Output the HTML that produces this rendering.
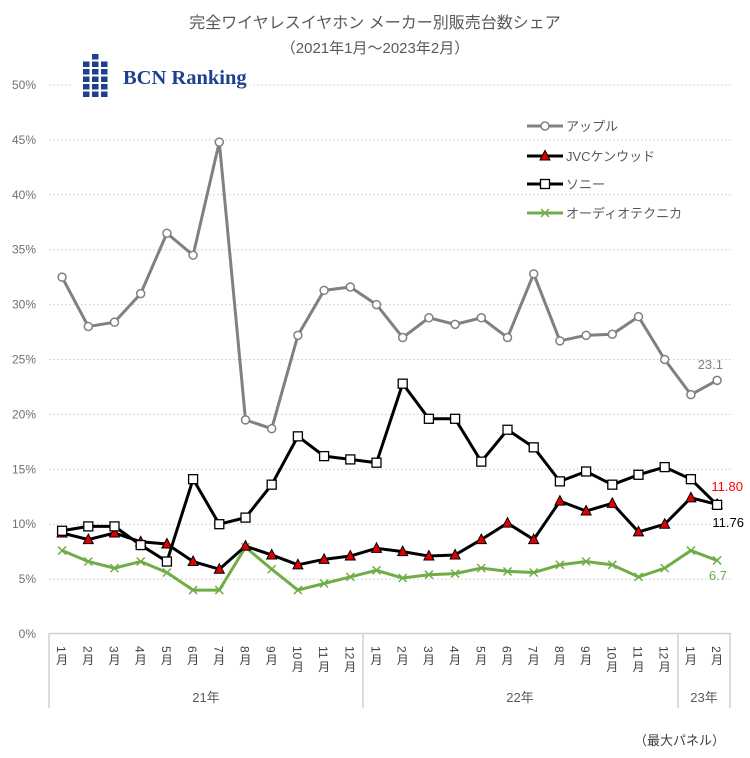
<!DOCTYPE html>
<html><head><meta charset="utf-8"><style>
html,body{margin:0;padding:0;background:#fff;}
body{width:750px;height:753px;overflow:hidden;}
svg text{font-family:"Liberation Sans","Noto Sans CJK JP",sans-serif;}
</style></head><body>
<svg id="c" width="750" height="753" xmlns="http://www.w3.org/2000/svg"></svg>
<script>
const s=document.getElementById('c');
let h='';
const Y=v=>634-v*10.98, X=i=>49+26.2*(i+0.5);
h+='<text x="375" y="28" text-anchor="middle" font-size="16" fill="#595959">完全ワイヤレスイヤホン メーカー別販売台数シェア</text>';
h+='<text x="375" y="53" text-anchor="middle" font-size="15" fill="#595959">（2021年1月～2023年2月）</text>';
for(let k=0;k<=10;k++){const y=Y(k*5);
 if(k>0)h+=`<line x1="49" x2="731" y1="${y}" y2="${y}" stroke="#c8c8c8" stroke-dasharray="1.5,2.5"/>`;
 h+=`<text x="36" y="${y+4}" text-anchor="end" font-size="12" fill="#707070">${k*5}%</text>`;}
h+='<rect x="72" y="60" width="178" height="30" fill="#fff"/>';
for(let c=0;c<3;c++)for(let r=0;r<6;r++){if(c!=1&&r<1)continue;
 h+=`<rect x="${83+c*9}" y="${54+r*7.5}" width="6.5" height="5.5" fill="#1f3f8f"/>`;}
h+='<text x="123" y="84" font-weight="bold" font-size="20.5" fill="#1f3f8f" style="font-family:\'Liberation Serif\',serif">BCN Ranking</text>';
h+='<line x1="49" x2="731" y1="633.5" y2="633.5" stroke="#d0d0d0" stroke-width="1.5"/>';
[49,363,678,730].forEach(x=>h+=`<line x1="${x}" x2="${x}" y1="633" y2="708" stroke="#d0d0d0" stroke-width="1.5"/>`);
for(let i=0;i<26;i++){const m=i<12?i+1:(i<24?i-11:i-23);
 h+=`<text transform="translate(${X(i)-5},646) rotate(90)" font-size="12" fill="#404040">${m}</text>`;
 h+=`<text x="${X(i)}" y="${646+(m>9?15:8)+10}" text-anchor="middle" font-size="12" fill="#404040">月</text>`;}
h+='<text x="206" y="702" text-anchor="middle" font-size="13" fill="#595959">21年</text>';
h+='<text x="520" y="702" text-anchor="middle" font-size="13" fill="#595959">22年</text>';
h+='<text x="704" y="702" text-anchor="middle" font-size="13" fill="#595959">23年</text>';
h+='<text x="725" y="745" text-anchor="end" font-size="13" fill="#404040">（最大パネル）</text>';
const A=[32.5,28,28.4,31,36.5,34.5,44.8,19.5,18.7,27.2,31.3,31.6,30,27,28.8,28.2,28.8,27,32.8,26.7,27.2,27.3,28.9,25,21.8,23.1];
const S=[9.4,9.8,9.8,8.1,6.6,14.1,10,10.6,13.6,18,16.2,15.9,15.6,22.8,19.6,19.6,15.7,18.6,17,13.9,14.8,13.6,14.5,15.2,14.1,11.76];
const J=[9.2,8.6,9.2,8.4,8.2,6.6,5.9,8.0,7.2,6.3,6.8,7.1,7.8,7.5,7.1,7.2,8.6,10.1,8.6,12.1,11.2,11.9,9.3,10,12.4,11.8];
const T=[7.6,6.6,6,6.6,5.6,4,4,7.9,5.9,4,4.6,5.2,5.8,5.1,5.4,5.5,6,5.7,5.6,6.3,6.6,6.3,5.2,6,7.6,6.7];
const pl=(d,c,w)=>`<polyline fill="none" stroke="${c}" stroke-width="${w}" stroke-linejoin="round" points="${d.map((v,i)=>X(i)+','+Y(v)).join(' ')}"/>`;
const circ=(x,y)=>`<circle cx="${x}" cy="${y}" r="4" fill="#fff" stroke="#808080" stroke-width="1.5"/>`;
const sq=(x,y)=>`<rect x="${x-4.5}" y="${y-4.5}" width="9" height="9" fill="#fff" stroke="#000" stroke-width="1.3"/>`;
const tri=(x,y)=>`<polygon points="${x},${y-5.5} ${x-5},${y+4} ${x+5},${y+4}" fill="#e00000" stroke="#000" stroke-width="1"/>`;
const cr=(x,y)=>`<path d="M${x-4},${y-4}L${x+4},${y+4}M${x-4},${y+4}L${x+4},${y-4}" stroke="#70ad47" stroke-width="1.5"/>`;
h+=pl(T,'#70ad47',3);T.forEach((v,i)=>h+=cr(X(i),Y(v)));
h+=pl(A,'#808080',3);A.forEach((v,i)=>h+=circ(X(i),Y(v)));
h+=pl(J,'#000',3);J.forEach((v,i)=>h+=tri(X(i),Y(v)));
h+=pl(S,'#000',3);S.forEach((v,i)=>h+=sq(X(i),Y(v)));
h+='<text x="723" y="369" text-anchor="end" font-size="13" fill="#808080">23.1</text>';
h+='<text x="743" y="491" text-anchor="end" font-size="13" fill="#ff0000">11.80</text>';
h+='<text x="744" y="527" text-anchor="end" font-size="13" fill="#000">11.76</text>';
h+='<text x="727" y="580" text-anchor="end" font-size="13" fill="#70ad47">6.7</text>';
const L=[['アップル','#808080',circ],['JVCケンウッド','#000',tri],['ソニー','#000',sq],['オーディオテクニカ','#70ad47',cr]];
[126,156,184,213].forEach((y,k)=>{const [t,c,f]=L[k];
 h+=`<line x1="527" x2="563" y1="${y}" y2="${y}" stroke="${c}" stroke-width="3"/>`+f(545,y)+
 `<text x="566" y="${y+5}" font-size="13" fill="#595959">${t}</text>`;});
s.innerHTML=h;
</script>
</body></html>
